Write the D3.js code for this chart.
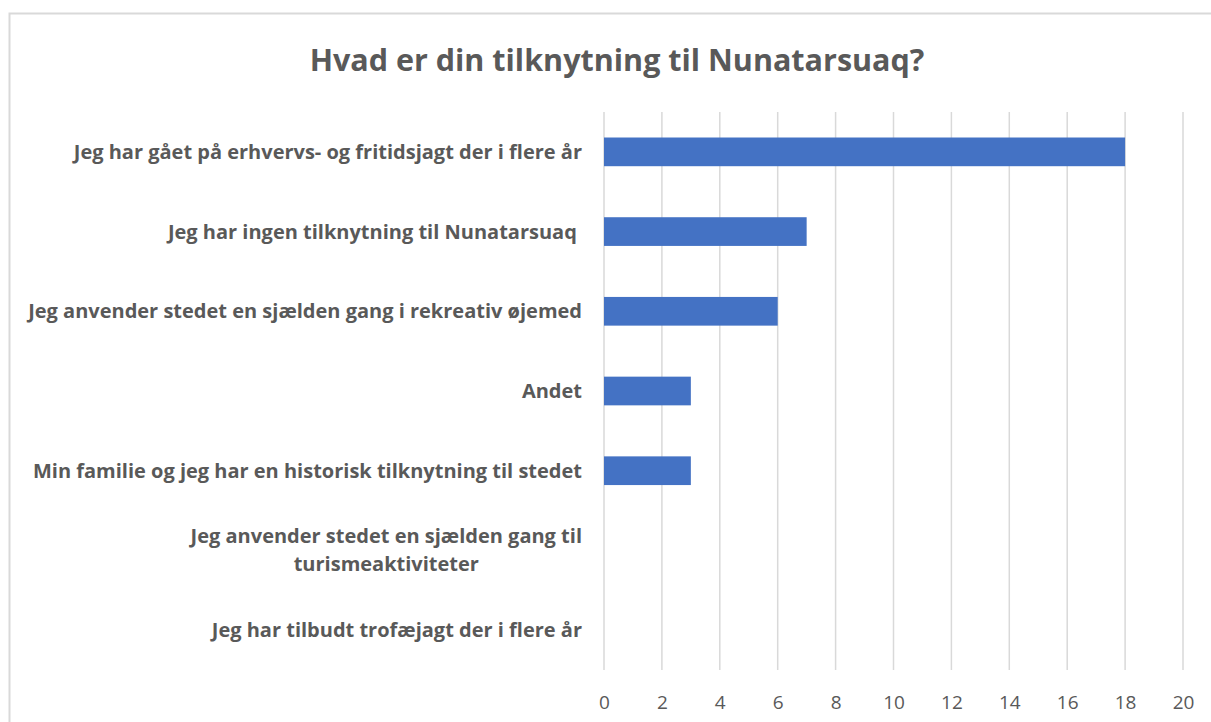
<!DOCTYPE html>
<html>
<head>
<meta charset="utf-8">
<script src="https://cdn.jsdelivr.net/npm/d3@7"></script>
<style>
  body { margin: 0; background: #fff; }
  text { font-family: "Open Sans", sans-serif; white-space: pre; }
</style>
</head>
<body>
<svg id="chart" width="1211" height="722"></svg>
<script>
// answers, top to bottom, and how many picked each one
var categories = [
  "Jeg har gået på erhvervs- og fritidsjagt der i flere år",
  "Jeg har ingen tilknytning til Nunatarsuaq ",
  "Jeg anvender stedet en sjælden gang i rekreativ øjemed",
  "Andet",
  "Min familie og jeg har en historisk tilknytning til stedet",
  "Jeg anvender stedet en sjælden gang til turismeaktiviteter",
  "Jeg har tilbudt trofæjagt der i flere år"
];
var counts = [18, 7, 6, 3, 3, 0, 0];
var xTicks = [0, 2, 4, 6, 8, 10, 12, 14, 16, 18, 20];
var title = "Hvad er din tilknytning til Nunatarsuaq?";

var svg = d3.select("#chart");
var margin = {left: 604, right: 28, top: 112, bottom: 52};
var width = 1211, height = 722;

// chart frame
svg.append("rect")
  .attr("x", 9.5).attr("y", 13.5)
  .attr("width", 1230).attr("height", 740)
  .attr("fill", "#fff")
  .attr("stroke", "#d9d9d9")
  .attr("stroke-width", 2);

var x = d3.scaleLinear().domain([0, 20]).range([margin.left, width - margin.right]);
var y = d3.scaleBand().domain(categories)
  .range([margin.top, height - margin.bottom])
  .paddingInner(0.64).paddingOuter(0.32);

// gridlines
svg.append("g").selectAll("line").data(xTicks).enter().append("line")
  .attr("x1", d => x(d)).attr("x2", d => x(d))
  .attr("y1", margin.top).attr("y2", height - margin.bottom)
  .attr("stroke", "#d9d9d9").attr("stroke-width", 1.5);

// bars
svg.append("g").selectAll("rect").data(counts).enter().append("rect")
  .attr("x", x(0))
  .attr("y", (d, i) => y(categories[i]))
  .attr("width", d => x(d) - x(0))
  .attr("height", y.bandwidth())
  .attr("fill", "#4472c4");

// x axis labels
var xAxis = d3.axisBottom(x).tickValues(xTicks).tickSize(0).tickPadding(0);
var gx = svg.append("g").attr("transform", "translate(0," + (height - 20) + ")").call(xAxis);
gx.select(".domain").remove();
gx.selectAll("text")
  .attr("dy", "0.35em")
  .style("font-family", "'Open Sans', sans-serif")
  .style("font-size", "19px")
  .attr("fill", "#595959");

// category labels, wrapped when too long
var labelRight = 582;
var maxW = 560;
var lg = svg.append("g");
categories.forEach(function(c) {
  var t = lg.append("text")
    .attr("font-size", "20px").attr("font-weight", "bold").attr("fill", "#595959");
  var words = c.split(" "), lines = [], cur = "";
  var probe = t.append("tspan");
  words.forEach(function(w) {
    var test = cur ? cur + " " + w : w;
    probe.text(test);
    if (probe.node().getComputedTextLength() > maxW && cur) { lines.push(cur); cur = w; }
    else cur = test;
  });
  lines.push(cur);
  probe.remove();
  var cy = y(c) + y.bandwidth() / 2;
  if (lines.length === 1) {
    t.attr("text-anchor", "end").attr("x", labelRight).attr("y", cy).attr("dy", "0.35em").text(lines[0]);
  } else {
    var widest = 0;
    lines.forEach(function(l) { probe = t.append("tspan").text(l); widest = Math.max(widest, probe.node().getComputedTextLength()); probe.remove(); });
    var cx = labelRight - widest / 2;
    t.attr("text-anchor", "middle");
    lines.forEach(function(l, i) {
      t.append("tspan").attr("x", cx)
        .attr("y", cy + (i - (lines.length - 1) / 2) * 28)
        .attr("dy", "0.35em").text(l);
    });
  }
});

// title
svg.append("text")
  .attr("x", 617).attr("y", 60)
  .attr("text-anchor", "middle").attr("dy", "0.35em")
  .attr("font-size", "30.5px").attr("font-weight", "bold")
  .attr("fill", "#595959")
  .text(title);
</script>
</body>
</html>
